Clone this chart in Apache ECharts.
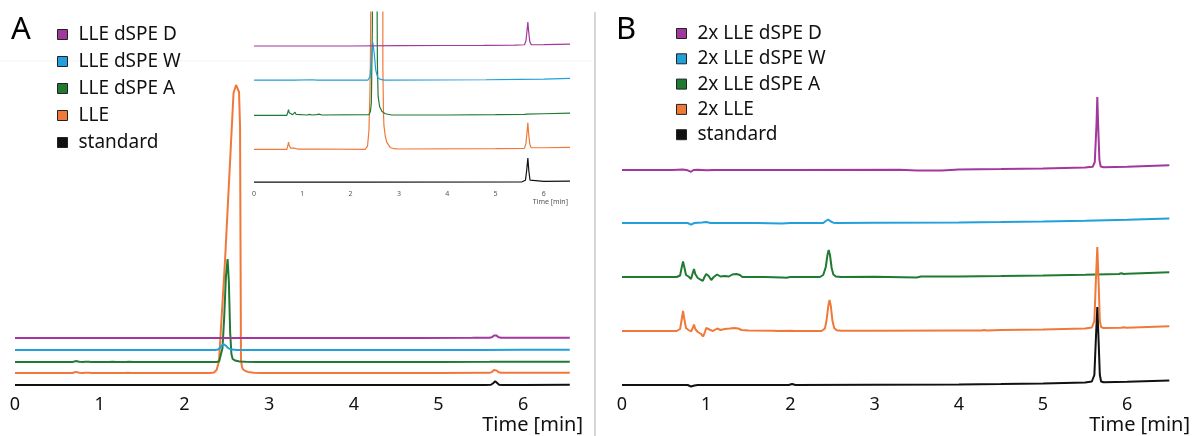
<!DOCTYPE html>
<html>
<head>
<meta charset="utf-8">
<script src="https://cdn.jsdelivr.net/npm/echarts@6/dist/echarts.min.js"></script>
<style>
html,body{margin:0;padding:0;background:#fff;}
#c{width:1192px;height:436px;}
</style>
</head>
<body>
<div id="c"></div>
<script>
// ---------- DATA ----------
const timeTickLabels = [0, 1, 2, 3, 4, 5, 6];
const namesA = ['LLE dSPE D', 'LLE dSPE W', 'LLE dSPE A', 'LLE', 'standard'];
const namesB = ['2x LLE dSPE D', '2x LLE dSPE W', '2x LLE dSPE A', '2x LLE', 'standard'];

// vertical stacking offsets of the traces (signal units)
const offsetsA = [47, 35, 23, 12, 0];
const offsetsInset = [21.6, 16.2, 10.6, 5.2, 0];
const offsetsB = [215, 162, 108, 54, 0];

// Panel A signals [time min, signal]
const sigA_D = [[0,0],[0.78,0],[0.81,-0.12],[0.84,0],[2.0,0],[3.0,0.05],[4.0,0.08],[4.75,0.1],[5.4,0.15],[5.6,0.2],[5.63,0.8],[5.655,2.6],[5.67,3.8],[5.685,2.4],[5.71,0.7],[5.74,0.2],[6.0,0.22],[6.55,0.3]];
const sigA_W = [[0,0],[0.78,0],[0.81,-0.12],[0.84,0],[1.2,0.05],[1.3,0],[2.36,0],[2.40,0.5],[2.43,3],[2.46,6],[2.49,4.2],[2.52,1.6],[2.56,0.4],[2.62,0.1],[2.7,0],[4.8,0.05],[5.5,0.1],[6.0,0.15],[6.55,0.25]];
const sigA_A = [[0,0],[0.68,0],[0.70,0.5],[0.715,0.9],[0.73,0.4],[0.76,0.15],[0.80,0.1],[0.83,0.2],[0.85,0.5],[0.87,0.15],[0.9,0.05],[1.1,0.05],[1.15,0.15],[1.2,0.05],[1.3,0.1],[1.35,0.18],[1.4,0.05],[2.38,0.1],[2.41,0.6],[2.43,2],[2.45,14],[2.47,45],[2.49,85],[2.51,103],[2.525,80],[2.54,30],[2.555,8],[2.57,3],[2.6,1.4],[2.65,0.6],[2.72,0.25],[2.85,0.05],[4.0,0.05],[5.0,0.1],[5.6,0.15],[5.65,0.2],[6.0,0.25],[6.55,0.35]];
const sigA_LLE = [[0,0],[0.68,0],[0.70,0.6],[0.715,1.15],[0.73,0.6],[0.76,0.2],[0.80,0.1],[0.83,0.2],[0.85,0.5],[0.87,0.15],[0.9,0.05],[1.13,0.05],[1.15,0.15],[1.18,0.05],[1.3,0.05],[1.33,0.15],[1.37,0.05],[2.30,0],[2.35,0.5],[2.38,3],[2.40,9],[2.41,14],[2.48,113],[2.54,213],[2.58,280],[2.61,288],[2.63,289],[2.645,281],[2.657,246],[2.668,13],[2.68,6],[2.69,3.8],[2.72,2],[2.75,1.1],[2.82,0.3],[2.9,0.1],[3.0,0.05],[5.0,0.1],[5.6,0.15],[5.63,0.9],[5.655,2.9],[5.67,4.2],[5.685,2.6],[5.71,0.8],[5.74,0.25],[6.0,0.25],[6.55,0.3]];
const sigA_std = [[0,0],[0.8,0],[0.82,0.05],[0.85,0],[2.1,0],[2.12,0.05],[2.15,0],[5.55,0.05],[5.62,0.3],[5.645,1.8],[5.67,3.8],[5.69,1.8],[5.715,0.3],[5.75,0.1],[6.0,0.1],[6.55,0.15]];

// Panel B signals [time min, signal]
const sigB_D = [[0,0],[0.6,0],[0.72,0.4],[0.78,-0.3],[0.82,-1.8],[0.85,0],[0.9,0.3],[1.0,-0.3],[1.1,0],[2.0,0],[2.02,0.7],[2.05,0],[3.3,0.3],[3.5,-0.6],[3.8,-0.5],[4.0,0.5],[4.5,1],[5.0,1.6],[5.5,2.4],[5.59,3.2],[5.615,8],[5.635,45],[5.645,73],[5.655,45],[5.67,10],[5.685,3.5],[5.72,2.8],[6.0,3.3],[6.5,4.8]];
const sigB_W = [[0,0],[0.78,0],[0.82,-1.6],[0.86,0],[0.95,0.6],[1.0,1],[1.05,0],[1.3,0],[1.6,0],[1.9,-0.4],[2.0,0],[2.39,0],[2.42,2],[2.45,3.5],[2.48,1.5],[2.51,0.3],[2.55,0],[3.0,0.3],[4.0,0.6],[4.5,1],[5.0,1.6],[5.5,2.3],[6.0,3.2],[6.5,4.5]];
const sigB_A = [[0,0],[0.3,0],[0.65,0],[0.69,1.5],[0.71,10],[0.725,15.5],[0.74,10],[0.76,2],[0.79,0.5],[0.82,-2],[0.84,4],[0.855,8],[0.87,3],[0.9,-1],[0.93,-2.5],[0.96,-3.8],[0.98,0],[1.0,3],[1.03,1],[1.06,-3],[1.09,0],[1.13,2.5],[1.17,0.5],[1.22,1],[1.27,0.5],[1.31,2.5],[1.36,3],[1.40,2],[1.43,0],[1.7,0],[1.9,-0.5],[1.95,-0.8],[2.0,0],[2.35,0],[2.39,2],[2.42,10],[2.44,22],[2.455,27],[2.47,22],[2.49,9],[2.51,2.5],[2.54,0.5],[2.6,0],[3.0,0.3],[3.5,-0.4],[3.55,0.4],[4.0,0.6],[4.5,1],[5.0,1.6],[5.5,2.3],[5.9,3],[5.93,3.8],[5.96,3],[6.0,3.2],[6.5,4.8]];
const sigB_LLE = [[0,0],[0.3,0],[0.65,0],[0.69,2],[0.71,12],[0.725,20],[0.74,12],[0.76,3],[0.79,1],[0.82,-0.5],[0.84,3],[0.855,6.5],[0.87,2],[0.9,-1],[0.94,-3],[0.965,-5.5],[0.985,-1],[1.0,3],[1.02,4],[1.05,1],[1.08,0],[1.13,2.5],[1.17,1],[1.22,2],[1.28,2.5],[1.33,3],[1.38,2.5],[1.42,1],[1.5,0.5],[1.8,0.3],[1.85,0],[2.0,0.3],[2.02,1],[2.05,0],[2.37,0],[2.41,2.5],[2.43,11],[2.45,25],[2.465,31],[2.48,25],[2.50,10],[2.52,3],[2.55,0.8],[2.6,0.2],[3.0,0.3],[4.0,0.6],[4.27,0.6],[4.3,1.1],[4.33,0.6],[4.5,1],[5.0,1.6],[5.5,2.4],[5.58,3.5],[5.61,10],[5.63,55],[5.645,84],[5.66,50],[5.675,10],[5.69,4],[5.72,2.9],[5.93,3.2],[5.96,3.8],[5.99,3.2],[6.5,4.8]];
const sigB_std = [[0,0],[0.78,0],[0.82,-1.5],[0.86,-0.5],[0.9,0],[1.98,0],[2.02,1],[2.06,0],[3.0,0.3],[4.0,0.6],[4.5,1],[5.0,1.6],[5.5,2.4],[5.58,3.5],[5.61,10],[5.63,50],[5.645,78],[5.66,45],[5.675,10],[5.69,3.5],[5.72,2.7],[6.0,3.2],[6.5,4.5]];

// ---------- STYLE ----------
const colors = ['#a2379e', '#21a0db', '#217a32', '#f0793a', '#111111'];
const FONT = 'Noto Sans';
const sigsA = [sigA_D, sigA_W, sigA_A, sigA_LLE, sigA_std];
const sigsB = [sigB_D, sigB_W, sigB_A, sigB_LLE, sigB_std];

const shift = (sig, off) => sig.map(p => [p[0], p[1] + off]);

function mkSeries(name, idx, sig, off, gi, width) {
  return {
    type: 'line', name: name, xAxisIndex: gi, yAxisIndex: gi,
    data: shift(sig, off), showSymbol: false, symbol: 'none',
    lineStyle: { color: colors[idx], width: width },
    itemStyle: { color: colors[idx] },
    clip: true, animation: false, z: 2
  };
}

const series = [];
// panel A main: draw black first, purple last
for (let i = 4; i >= 0; i--) series.push(mkSeries(namesA[i], i, sigsA[i], offsetsA[i], 0, 2));
for (let i = 4; i >= 0; i--) series.push(mkSeries(namesA[i], i, sigsA[i], offsetsInset[i], 1, 1.2));
// panel B
const orderB = [0, 1, 2, 3, 4];
orderB.forEach(i => series.push(mkSeries(namesB[i], i, sigsB[i], offsetsB[i], 2, 2)));

const intLabel = v => (Math.abs(v - Math.round(v)) < 1e-6 && timeTickLabels.indexOf(Math.round(v)) >= 0) ? String(Math.round(v)) : '';

function xAx(gi, max, fs, margin, color) {
  return {
    type: 'value', gridIndex: gi, min: 0, max: max, interval: 1,
    axisLine: { show: false }, axisTick: { show: false }, splitLine: { show: false },
    axisLabel: { fontSize: fs, fontFamily: FONT, color: color, margin: margin, formatter: intLabel,
                 showMinLabel: true, showMaxLabel: true, hideOverlap: false }
  };
}
function yAx(gi, min, max) {
  return { type: 'value', gridIndex: gi, min: min, max: max, show: false,
           axisLine: { show: false }, splitLine: { show: false } };
}

const legendCommon = {
  orient: 'vertical', icon: 'rect', itemWidth: 10, itemHeight: 10, padding: 0,
  selectedMode: false,
  itemStyle: { borderColor: '#222', borderWidth: 1 },
  textStyle: { fontFamily: FONT, fontSize: 19, color: '#111', padding: [0, 0, 0, 6] }
};

const option = {
  backgroundColor: '#fff',
  animation: false,
  grid: [
    { left: 15, top: 80, width: 6.55 * 84.7, height: 310 },
    { left: 254, top: 12, width: 6.5 * 48.3, height: 27.5 * 6.3 },
    { left: 622, top: 80, width: 6.5 * 84.2, height: 310 }
  ],
  xAxis: [ xAx(0, 6.55, 18, 6, '#111'), xAx(1, 6.5, 7, 5, '#555'), xAx(2, 6.5, 18, 6, '#111') ],
  yAxis: [ yAx(0, -5, 305), yAx(1, -0.5, 27), yAx(2, -5, 305) ],
  legend: [
    Object.assign({}, legendCommon, { left: 57, top: 25, itemGap: 8, data: namesA }),
    Object.assign({}, legendCommon, { left: 676, top: 24, itemGap: 6.3, data: namesB })
  ],
  graphic: [
    { type: 'line', silent: true, shape: { x1: 0, y1: 61, x2: 592, y2: 61 }, style: { stroke: '#f5f5f5', lineWidth: 1 }, z: 0 },
    { type: 'line', silent: true, shape: { x1: 595, y1: 12, x2: 595, y2: 436 }, style: { stroke: '#d6d6d6', lineWidth: 2 } },
    { type: 'text', silent: true, style: { text: 'A', x: 11, y: 30, font: '31px "Noto Sans"', fill: '#000', align: 'left', verticalAlign: 'middle' } },
    { type: 'text', silent: true, style: { text: 'B', x: 616, y: 30, font: '31px "Noto Sans"', fill: '#000', align: 'left', verticalAlign: 'middle' } },
    { type: 'text', silent: true, style: { text: 'Time [min]', x: 583, y: 425, font: '20px "Noto Sans"', fill: '#111', align: 'right', verticalAlign: 'middle' } },
    { type: 'text', silent: true, style: { text: 'Time [min]', x: 1190, y: 425, font: '20px "Noto Sans"', fill: '#111', align: 'right', verticalAlign: 'middle' } },
    { type: 'text', silent: true, style: { text: 'Time [min]', x: 568, y: 202, font: '7px "Noto Sans"', fill: '#555', align: 'right', verticalAlign: 'middle' } }
  ],
  series: series
};

const chart = echarts.init(document.getElementById('c'), null, { renderer: 'canvas' });
chart.setOption(option);
</script>
</body>
</html>
